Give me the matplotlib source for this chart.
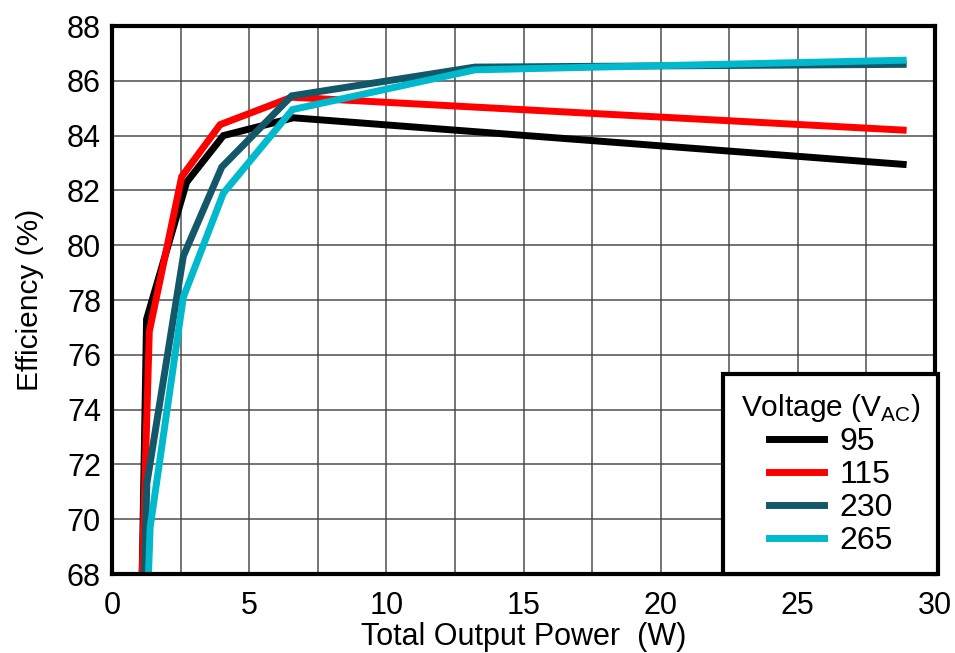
import matplotlib.pyplot as plt
from matplotlib.ticker import MultipleLocator

plt.rcParams['font.family'] = ['Liberation Sans', 'DejaVu Sans']

# Efficiency vs. total output power, one curve per AC input voltage
power_95 = [1.10, 1.26, 2.72, 4.06, 6.61, 28.84]
eff_95 = [68.0, 77.3, 82.3, 84.0, 84.65, 82.95]

power_115 = [1.10, 1.36, 2.54, 3.94, 6.55, 28.84]
eff_115 = [68.0, 76.85, 82.5, 84.4, 85.4, 84.2]

power_230 = [1.18, 1.27, 2.60, 4.00, 6.55, 13.23, 28.84]
eff_230 = [68.0, 71.3, 79.6, 82.85, 85.45, 86.5, 86.6]

power_265 = [1.33, 1.39, 2.60, 4.06, 6.58, 13.23, 28.84]
eff_265 = [68.0, 69.7, 78.1, 81.9, 84.95, 86.4, 86.75]

series = [
    ("95", power_95, eff_95, "#000000"),
    ("115", power_115, eff_115, "#FF0000"),
    ("230", power_230, eff_230, "#135868"),
    ("265", power_265, eff_265, "#00B9CC"),
]

fig = plt.figure(figsize=(9.55, 6.53), dpi=100)
ax = fig.add_axes([112 / 955, 1 - 574 / 653, 823 / 955, 548 / 653])

for label, x, y, color in series:
    ax.plot(x, y, color=color, linewidth=5, label=label, solid_joinstyle="miter")

ax.set_xlim(0, 30)
ax.set_ylim(68, 88)
ax.xaxis.set_major_locator(MultipleLocator(5))
ax.xaxis.set_minor_locator(MultipleLocator(2.5))
ax.yaxis.set_major_locator(MultipleLocator(2))
ax.grid(True, which="both", color="#444444", linewidth=1.3, alpha=0.8)
ax.tick_params(which="both", length=0, labelsize=22)
ax.tick_params(axis="x", pad=12)
ax.tick_params(axis="y", pad=8)

for spine in ax.spines.values():
    spine.set_linewidth(3)

ax.set_xlabel("Total Output Power  (W)", fontsize=22)
ax.set_ylabel("Efficiency (%)", fontsize=21.5)
ax.xaxis.set_label_coords(0.5, -0.087)
ax.yaxis.set_label_coords(-0.083, 0.5)

leg = ax.legend(title="Voltage (V$_{\\mathregular{AC}}$)", loc="lower right",
                bbox_to_anchor=(1.004, 0.0), fontsize=23, title_fontsize=21.5,
                handlelength=1.72, borderaxespad=0, fancybox=False, framealpha=1,
                labelspacing=0.1, handletextpad=0.5, borderpad=0.55)
leg.get_frame().set_edgecolor("black")
leg.get_frame().set_linewidth(3)
for line in leg.get_lines():
    line.set_linewidth(5)

fig.savefig("out.png", dpi=100)
